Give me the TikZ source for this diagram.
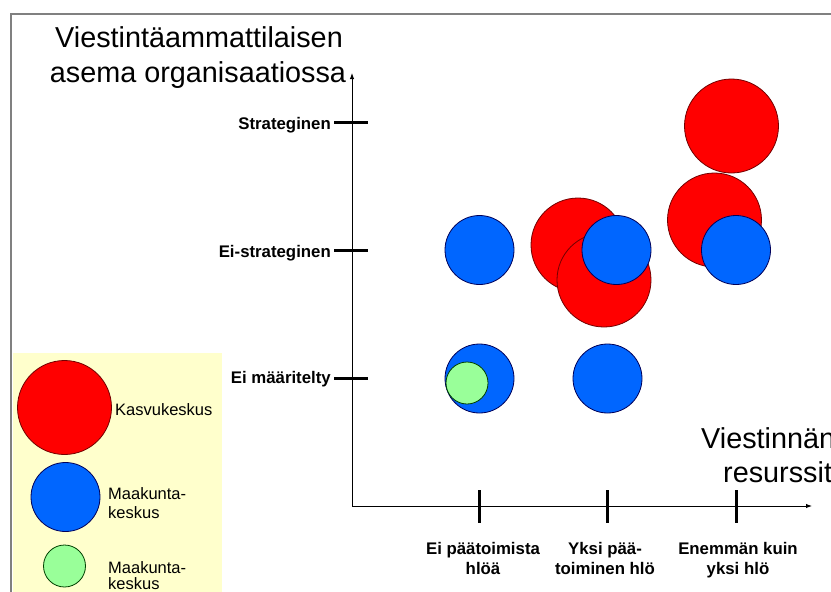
\documentclass[tikz,border=0pt]{standalone}
\usepackage{fontspec}
\setmainfont{Liberation Sans}
\usetikzlibrary{arrows.meta}
\definecolor{kred}{RGB}{255,0,0}
\definecolor{kblue}{RGB}{0,102,255}
\definecolor{kgreen}{RGB}{153,255,153}
\definecolor{lyellow}{RGB}{255,255,204}
\definecolor{framegray}{RGB}{128,128,128}
\begin{document}
\begin{tikzpicture}[x=1pt,y=-1pt,
  bubble/.style={circle, inner sep=0pt, outer sep=0pt, line width=0.8pt},
  bigred/.style={bubble, fill=kred, draw=red!45!black, minimum size=94pt},
  blueb/.style={bubble, fill=kblue, draw=blue!35!black, minimum size=69pt},
  greenb/.style={bubble, fill=kgreen, draw=green!25!black, minimum size=42pt},
  axisline/.style={line width=1pt, -{Latex[length=6pt,width=4.5pt]}},
  tickmark/.style={line width=3pt},
  ticklab/.style={font=\fontsize{16.8}{20}\selectfont\bfseries, inner sep=0pt},
  leglab/.style={font=\fontsize{16.5}{20}\selectfont, inner sep=0pt, anchor=base west},
  bigtxt/.style={font=\fontsize{28.8}{34}\selectfont, inner sep=0pt}]
\path[use as bounding box] (0,0) rectangle (831,592);
\clip (0,0) rectangle (831,592);
\fill[white] (0,0) rectangle (831,592);
% frame
\draw[framegray, line width=1.5pt] (840,14) -- (11,14) -- (11,600);
% legend background
\fill[lyellow] (13,353) rectangle (222,600);
% title texts
\node[bigtxt, anchor=base] (t1) at (199,47) {Viestintäammattilaisen};
\node[bigtxt, anchor=base] (t2) at (198,82) {asema organisaatiossa};
\node[bigtxt, anchor=base west] (r1) at (701,448) {Viestinnän};
\node[bigtxt, anchor=base west] (r2) at (723,482) {resurssit};
% axes
\coordinate (O) at (352,506);
\coordinate (ytip) at (352,73);
\coordinate (xtip) at (812,506);
\draw[axisline] (O) -- (ytip);
\draw[axisline] (O) -- (xtip);
% y ticks
\coordinate (ya1) at (334,122); \coordinate (yb1) at (368,122);
\coordinate (ya2) at (334,250); \coordinate (yb2) at (368,250);
\coordinate (ya3) at (334,378); \coordinate (yb3) at (368,378);
\draw[tickmark] (ya1) -- (yb1);
\draw[tickmark] (ya2) -- (yb2);
\draw[tickmark] (ya3) -- (yb3);
\node[ticklab, anchor=base east] (yl1) at (331,129) {Strateginen};
\node[ticklab, anchor=base east] (yl2) at (331,257) {Ei-strateginen};
\node[ticklab, anchor=base east] (yl3) at (331,383) {Ei määritelty};
% x ticks
\coordinate (xa1) at (479,490); \coordinate (xb1) at (479,523);
\coordinate (xa2) at (607,490); \coordinate (xb2) at (607,523);
\coordinate (xa3) at (736,490); \coordinate (xb3) at (736,523);
\draw[tickmark] (xa1) -- (xb1);
\draw[tickmark] (xa2) -- (xb2);
\draw[tickmark] (xa3) -- (xb3);
\node[ticklab, anchor=base] (xl1a) at (483,554) {Ei päätoimista};
\node[ticklab, anchor=base] (xl1b) at (483,574) {hlöä};
\node[ticklab, anchor=base] (xl2a) at (605,554) {Yksi pää-};
\node[ticklab, anchor=base] (xl2b) at (605,574) {toiminen hlö};
\node[ticklab, anchor=base] (xl3a) at (738,554) {Enemmän kuin};
\node[ticklab, anchor=base] (xl3b) at (738,574) {yksi hlö};
% data bubbles
\node[blueb] (b1) at (479.5,250) {};
\node[blueb] (b2) at (479.5,378.5) {};
\node[greenb] (g1) at (467,383) {};
\node[blueb] (b3) at (607.5,378.5) {};
\node[bigred] (r3) at (578,245) {};
\node[bigred] (r4) at (604,280) {};
\node[blueb] (b4) at (616.5,250) {};
\node[bigred] (r5) at (731.5,126) {};
\node[bigred] (r6) at (714.5,220) {};
\node[blueb] (b5) at (736,250) {};
% legend
\node[bigred] (lr) at (64.5,407.5) {};
\node[blueb] (lb) at (65.5,497) {};
\node[greenb] (lg) at (64.5,566) {};
\node[leglab] (ll1) at (115,415) {Kasvukeskus};
\node[leglab] (ll2a) at (108,499) {Maakunta-};
\node[leglab] (ll2b) at (108,518) {keskus};
\node[leglab] (ll3a) at (108,573) {Maakunta-};
\node[leglab] (ll3b) at (108,589) {keskus};
\end{tikzpicture}
\end{document}
